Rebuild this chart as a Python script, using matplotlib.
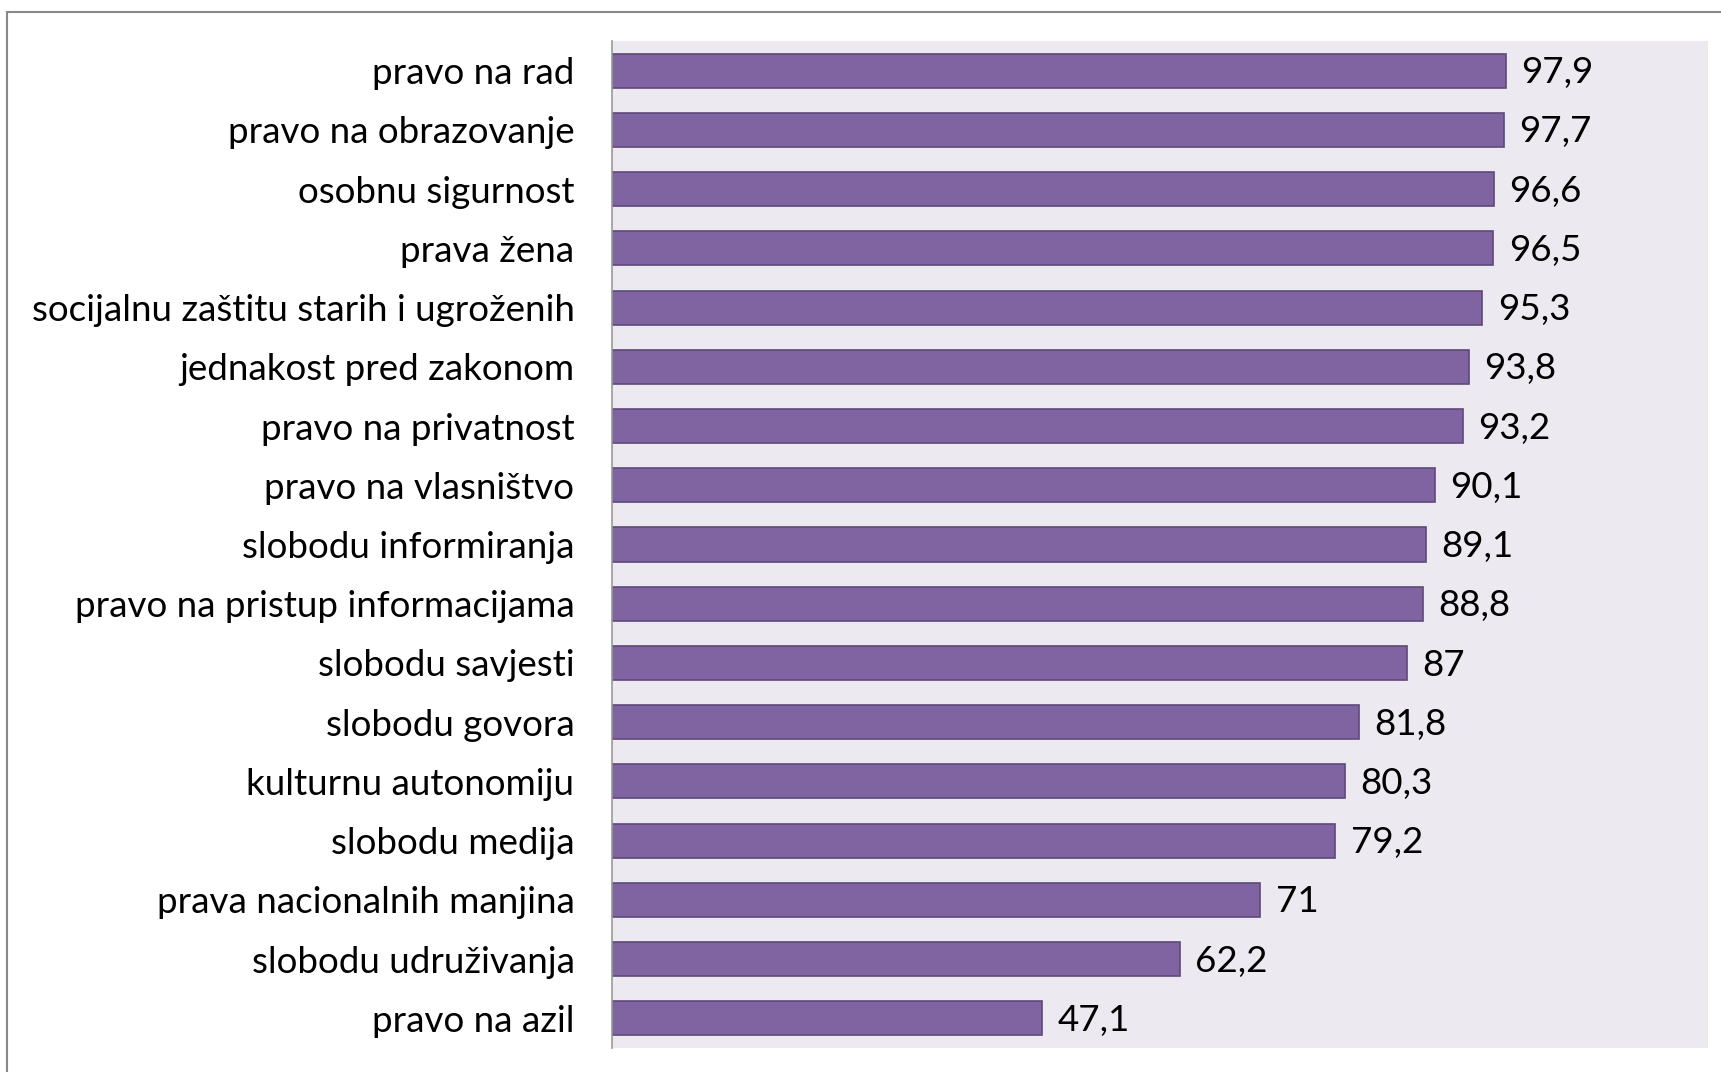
import matplotlib
matplotlib.use("Agg")
import matplotlib.pyplot as plt
from matplotlib.patches import Rectangle

CATEGORIES = [
    "pravo na rad",
    "pravo na obrazovanje",
    "osobnu sigurnost",
    "prava žena",
    "socijalnu zaštitu starih i ugroženih",
    "jednakost pred zakonom",
    "pravo na privatnost",
    "pravo na vlasništvo",
    "slobodu informiranja",
    "pravo na pristup informacijama",
    "slobodu savjesti",
    "slobodu govora",
    "kulturnu autonomiju",
    "slobodu medija",
    "prava nacionalnih manjina",
    "slobodu udruživanja",
    "pravo na azil",
]
VALUES = [97.9, 97.7, 96.6, 96.5, 95.3, 93.8, 93.2, 90.1, 89.1, 88.8,
          87, 81.8, 80.3, 79.2, 71, 62.2, 47.1]

BAR_COLOUR = "#8064A2"
EDGE_COLOUR = "#5F497A"
PLOT_BG = "#ECEAF0"

plt.rcParams["font.family"] = ["Lato", "DejaVu Sans"]

W, H = 1721, 1072
fig = plt.figure(figsize=(W / 100, H / 100), dpi=100)

# outer chart frame (cut off at right and bottom)
fig.patches.append(Rectangle((7 / W, -0.1), 1.2, 1 - 12 / H + 0.1,
                             transform=fig.transFigure, fill=False,
                             edgecolor="#888888", linewidth=1.5))

ax = fig.add_axes([612 / W, 1 - 1048 / H, (1708 - 612) / W, (1048 - 41) / H])
ax.set_facecolor(PLOT_BG)

y = list(range(len(CATEGORIES)))
ax.barh(y, VALUES, height=0.575, color=BAR_COLOUR, edgecolor=EDGE_COLOUR, linewidth=1.2)

for yi, v in zip(y, VALUES):
    label = f"{v:g}".replace(".", ",")
    ax.annotate(label, (v, yi), xytext=(11, -1.5), textcoords="offset points",
                va="center", ha="left", fontsize=26.5, color="black")

ax.set_xlim(0, 120)
ax.set_ylim(len(CATEGORIES) - 0.5, -0.5)
ax.set_yticks(y)
ax.set_yticklabels(CATEGORIES, fontsize=26.5)
ax.tick_params(axis="y", length=0, pad=27)
ax.set_xticks([])

for side in ["top", "right", "bottom"]:
    ax.spines[side].set_visible(False)
ax.spines["left"].set_color("#999999")
ax.spines["left"].set_linewidth(1.2)

fig.savefig("out.png", dpi=100)
